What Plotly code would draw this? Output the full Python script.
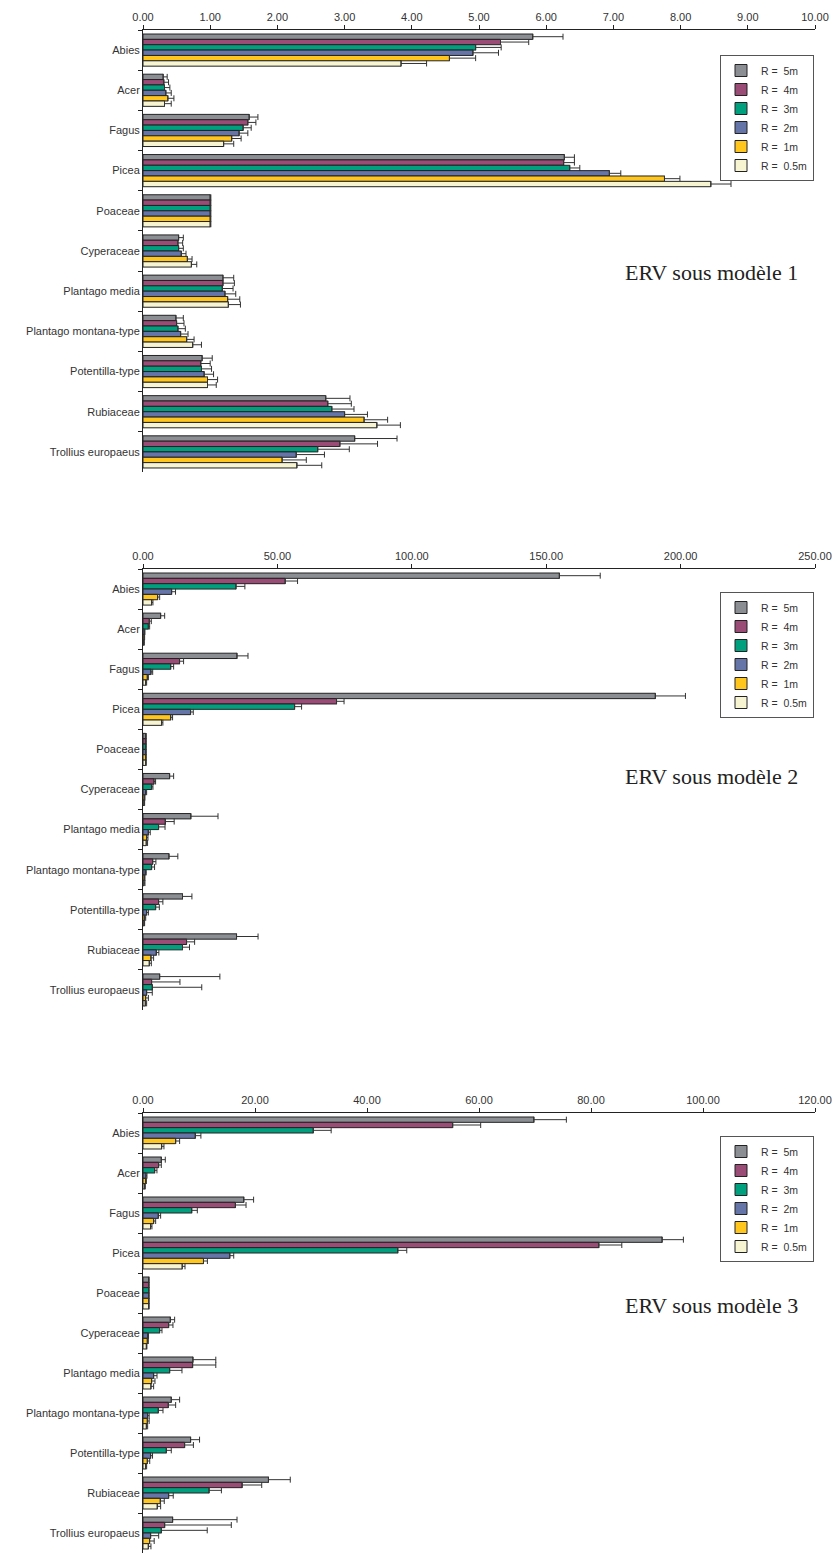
import plotly.graph_objects as go

categories = ["Abies", "Acer", "Fagus", "Picea", "Poaceae", "Cyperaceae",
              "Plantago media", "Plantago montana-type", "Potentilla-type",
              "Rubiaceae", "Trollius europaeus"]
series_names = ["R = \u00a05m", "R = \u00a04m", "R = \u00a03m", "R = \u00a02m", "R = \u00a01m", "R = \u00a00.5m"]
series_colors = ["#8b8e93", "#9a4b76", "#00a07e", "#6575a8", "#ffc61e", "#f7f4d2"]

# ---- ERV sous modèle 1 ----
m1_r5 = [5.80, 0.30, 1.58, 6.27, 1.00, 0.53, 1.19, 0.49, 0.88, 2.72, 3.15]
m1_r4 = [5.32, 0.31, 1.56, 6.26, 1.00, 0.52, 1.19, 0.50, 0.86, 2.75, 2.93]
m1_r3 = [4.95, 0.32, 1.49, 6.35, 1.00, 0.53, 1.18, 0.52, 0.87, 2.81, 2.60]
m1_r2 = [4.91, 0.34, 1.43, 6.94, 1.00, 0.57, 1.22, 0.56, 0.91, 3.00, 2.28]
m1_r1 = [4.56, 0.37, 1.32, 7.76, 1.00, 0.66, 1.26, 0.65, 0.96, 3.29, 2.07]
m1_r05 = [3.84, 0.32, 1.20, 8.45, 1.00, 0.72, 1.27, 0.74, 0.96, 3.48, 2.29]
m1_r5_err = [0.45, 0.06, 0.13, 0.15, 0.01, 0.07, 0.16, 0.11, 0.15, 0.36, 0.63]
m1_r4_err = [0.42, 0.07, 0.12, 0.16, 0.01, 0.07, 0.17, 0.11, 0.14, 0.35, 0.56]
m1_r3_err = [0.38, 0.08, 0.12, 0.15, 0.01, 0.07, 0.16, 0.11, 0.15, 0.33, 0.47]
m1_r2_err = [0.38, 0.08, 0.13, 0.17, 0.01, 0.07, 0.16, 0.11, 0.14, 0.34, 0.42]
m1_r1_err = [0.39, 0.09, 0.14, 0.23, 0.01, 0.07, 0.18, 0.11, 0.15, 0.35, 0.36]
m1_r05_err = [0.38, 0.10, 0.15, 0.30, 0.01, 0.08, 0.18, 0.13, 0.13, 0.35, 0.37]

# ---- ERV sous modèle 2 ----
m2_r5 = [154.9, 6.56, 34.96, 190.6, 1.0, 9.9, 17.8, 9.66, 14.7, 34.8, 6.2]
m2_r4 = [52.9, 2.34, 13.6, 72.0, 1.0, 4.08, 8.3, 3.6, 5.8, 16.2, 3.2]
m2_r3 = [34.6, 1.97, 10.3, 56.4, 1.0, 3.2, 5.8, 3.2, 4.7, 14.7, 3.46]
m2_r2 = [10.65, 0.48, 2.96, 17.7, 1.0, 0.98, 1.97, 0.86, 1.35, 4.95, 1.35]
m2_r1 = [5.44, 0.36, 1.6, 10.3, 1.0, 0.48, 1.35, 0.48, 0.6, 2.96, 0.98]
m2_r05 = [3.2, 0.24, 0.98, 6.9, 1.0, 0.36, 1.2, 0.36, 0.36, 2.34, 0.86]
m2_r5_err = [15.2, 1.5, 4.1, 11.2, 0.2, 1.5, 10.1, 3.3, 3.5, 8.0, 22.4]
m2_r4_err = [4.6, 0.75, 1.5, 2.8, 0.2, 0.6, 3.3, 1.2, 1.6, 3.0, 10.55]
m2_r3_err = [3.3, 0.5, 1.1, 2.6, 0.2, 0.5, 2.4, 1.1, 1.37, 2.6, 18.4]
m2_r2_err = [1.45, 0.25, 0.64, 1.0, 0.2, 0.37, 0.73, 0.34, 0.65, 0.95, 2.1]
m2_r1_err = [0.76, 0.24, 0.4, 0.7, 0.2, 0.25, 0.5, 0.25, 0.4, 0.99, 1.02]
m2_r05_err = [0.5, 0.26, 0.37, 0.5, 0.2, 0.24, 0.5, 0.37, 0.24, 0.76, 0.49]

# ---- ERV sous modèle 3 ----
m3_r5 = [69.8, 3.27, 18.0, 92.7, 1.0, 4.88, 8.92, 5.05, 8.5, 22.4, 5.29]
m3_r4 = [55.3, 2.79, 16.5, 81.4, 1.0, 4.58, 8.86, 4.52, 7.43, 17.7, 3.87]
m3_r3 = [30.4, 2.08, 8.7, 45.5, 1.0, 2.97, 4.76, 2.73, 4.16, 11.8, 3.27]
m3_r2 = [9.34, 0.53, 2.73, 15.5, 1.0, 0.83, 1.9, 0.83, 1.36, 4.58, 1.36]
m3_r1 = [5.83, 0.47, 1.9, 10.8, 1.0, 0.77, 1.54, 0.77, 0.77, 3.09, 1.18]
m3_r05 = [3.33, 0.3, 1.36, 7.0, 1.0, 0.6, 1.42, 0.6, 0.47, 2.55, 0.95]
m3_r5_err = [5.8, 0.71, 1.75, 3.8, 0.1, 0.77, 4.08, 1.49, 1.6, 3.9, 11.5]
m3_r4_err = [5.0, 0.48, 1.9, 4.1, 0.1, 0.77, 4.14, 1.31, 1.57, 3.5, 11.9]
m3_r3_err = [3.2, 0.41, 1.0, 1.6, 0.1, 0.42, 2.2, 0.84, 0.89, 2.2, 8.2]
m3_r2_err = [1.0, 0.18, 0.42, 0.7, 0.1, 0.16, 0.6, 0.27, 0.34, 0.82, 1.44]
m3_r1_err = [0.71, 0.13, 0.36, 0.7, 0.1, 0.18, 0.6, 0.33, 0.43, 0.71, 0.82]
m3_r05_err = [0.41, 0.1, 0.24, 0.5, 0.1, 0.1, 0.48, 0.23, 0.18, 0.6, 0.47]

panel_titles = ["ERV sous modèle 1", "ERV sous modèle 2", "ERV sous modèle 3"]
x_ranges = [[0, 10], [0, 250], [0, 120]]
x_dticks = [1, 50, 20]

panels = [
    ([m1_r5, m1_r4, m1_r3, m1_r2, m1_r1, m1_r05],
     [m1_r5_err, m1_r4_err, m1_r3_err, m1_r2_err, m1_r1_err, m1_r05_err]),
    ([m2_r5, m2_r4, m2_r3, m2_r2, m2_r1, m2_r05],
     [m2_r5_err, m2_r4_err, m2_r3_err, m2_r2_err, m2_r1_err, m2_r05_err]),
    ([m3_r5, m3_r4, m3_r3, m3_r2, m3_r1, m3_r05],
     [m3_r5_err, m3_r4_err, m3_r3_err, m3_r2_err, m3_r1_err, m3_r05_err]),
]

W, H = 834, 1553
ML, MR, MT, MB = 143, 19, 30, 0
PH = H - MT - MB
PW = W - ML - MR

def py(pix):
    return (H - MB - pix) / PH

def px(pix):
    return (pix - ML) / PW

panel_px = [(30, 472), (569, 1010), (1113, 1553)]
legend_tops = [55, 592, 1136]
title_y = [272, 776, 1305]

FONT = "Liberation Sans, Arial, sans-serif"
fig = go.Figure()
layout = dict(
    width=W, height=H,
    margin=dict(l=ML, r=MR, t=MT, b=MB, pad=0),
    paper_bgcolor="white", plot_bgcolor="white",
    barmode="group", bargap=0.2, bargroupgap=0,
    font=dict(family=FONT, size=11, color="#333"),
    annotations=[],
)

for p, (vals, errs) in enumerate(panels):
    sfx = "" if p == 0 else str(p + 1)
    leg = "legend" if p == 0 else "legend" + str(p + 1)
    for i in range(6):
        fig.add_trace(go.Bar(
            y=categories, x=vals[i], orientation="h",
            name=series_names[i],
            marker=dict(color=series_colors[i], line=dict(color="#222", width=1)),
            error_x=dict(type="data", symmetric=False, array=errs[i],
                         arrayminus=[0] * len(errs[i]),
                         color="#333", thickness=1, width=3),
            xaxis="x" + sfx, yaxis="y" + sfx, legend=leg,
        ))
    top, bot = panel_px[p]
    layout["yaxis" + sfx] = dict(
        domain=[py(bot), py(top)], anchor="x" + sfx, type="category",
        categoryorder="array", categoryarray=categories, autorange="reversed",
        tickson="boundaries", ticks="outside", ticklen=4, tickcolor="#222",
        showline=True, linecolor="#222", linewidth=1, showgrid=False,
        tickfont=dict(family=FONT, size=11, color="#333"),
    )
    layout["xaxis" + sfx] = dict(
        anchor="y" + sfx, side="top", range=x_ranges[p], dtick=x_dticks[p],
        tick0=0, tickformat=".2f", ticks="outside", ticklen=4, tickcolor="#222",
        showline=True, linecolor="#222", linewidth=1, showgrid=False,
        zeroline=False, fixedrange=True,
        tickfont=dict(family=FONT, size=11, color="#333"),
    )
    layout[leg] = dict(
        x=px(814), y=py(legend_tops[p]), xanchor="right", yanchor="top",
        bordercolor="#555", borderwidth=1, bgcolor="white",
        font=dict(family=FONT, size=10.5, color="#333"),
        itemwidth=30, tracegroupgap=0,
    )
    layout["annotations"].append(dict(
        text=panel_titles[p], x=px(711), y=py(title_y[p]),
        xref="paper", yref="paper", xanchor="center", yanchor="middle",
        showarrow=False,
        font=dict(family="Liberation Serif, Times New Roman, serif", size=22, color="#222"),
    ))

fig.update_layout(**layout)
fig.write_html("out.html", config={"displayModeBar": False},
               post_script="document.body.style.margin='0';")
